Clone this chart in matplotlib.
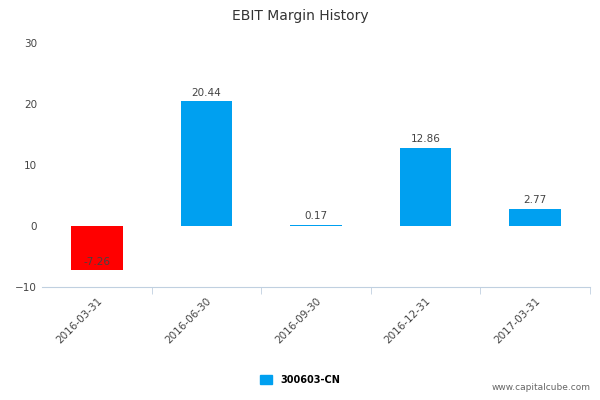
import matplotlib
matplotlib.use("Agg")
import matplotlib.pyplot as plt
from matplotlib.patches import Patch

categories = ["2016-03-31", "2016-06-30", "2016-09-30", "2016-12-31", "2017-03-31"]
values = [-7.26, 20.44, 0.17, 12.86, 2.77]
series_name = "300603-CN"

fig = plt.figure(figsize=(6, 4), dpi=100)
ax = fig.add_axes([0.07, 0.2825, 0.913, 0.61])
colors = ["#ff0000" if v < 0 else "#00a0f0" for v in values]
x = list(range(len(categories)))
ax.bar(x, values, width=0.47, color=colors)
for xi, v in zip(x, values):
    y = v + 0.6 if v >= 0 else v + 0.6
    ax.text(xi, y, f"{v:.2f}", ha="center", va="bottom", fontsize=7.5, color="#444444")
ax.set_xlim(-0.5, len(categories) - 0.5)
ax.set_ylim(-10, 30)
ax.set_yticks([-10, 0, 10, 20, 30])
ax.tick_params(axis="y", length=0, labelsize=7.5, colors="#444444")
ax.set_xticks(x)
ax.set_xticklabels(categories, rotation=45, ha="right", rotation_mode="anchor", fontsize=7.5, color="#444444")
ax.set_xticks([i + 0.5 for i in x], minor=True)
ax.tick_params(axis="x", which="major", length=0, pad=6)
ax.tick_params(axis="x", which="minor", length=5, color="#c0d0e0")
for s in ["top", "right", "left"]:
    ax.spines[s].set_visible(False)
ax.spines["bottom"].set_color("#c0d0e0")
fig.text(0.5, 0.96, "EBIT Margin History", ha="center", va="center", fontsize=10, color="#333333")
fig.legend(handles=[Patch(color="#00a0f0", label=series_name)], loc="center", bbox_to_anchor=(0.5, 0.05),
           frameon=False, fontsize=7, handlelength=1.3, handleheight=1.0, prop={"weight": "bold", "size": 7})
fig.text(0.985, 0.02, "www.capitalcube.com", ha="right", va="bottom", fontsize=6.5, color="#666666")
fig.savefig("out.png", dpi=100)
